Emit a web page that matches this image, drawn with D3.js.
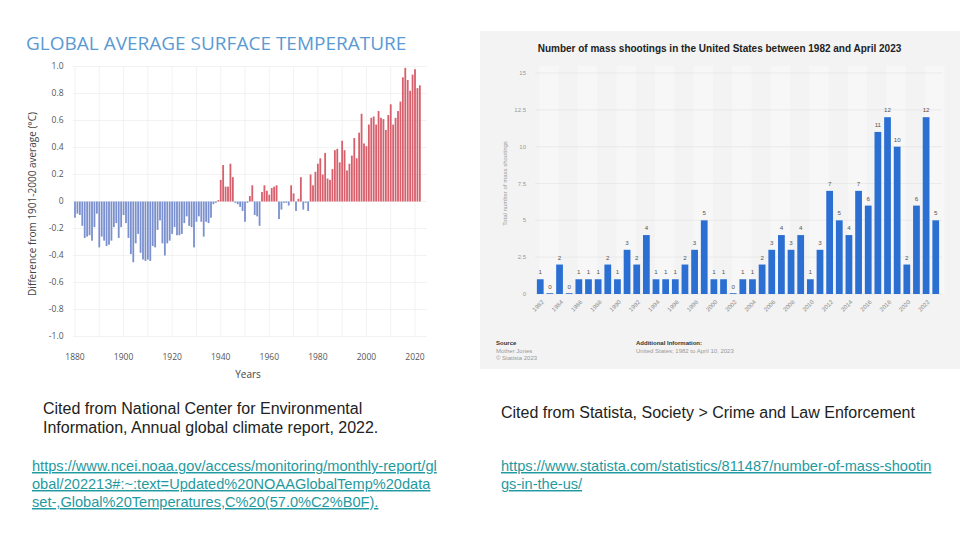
<!DOCTYPE html>
<html><head><meta charset="utf-8">
<script src="https://cdn.jsdelivr.net/npm/d3@7"></script>
<style>body{margin:0;background:#fff}svg{display:block}</style>
</head><body>
<svg id="c" width="960" height="540"></svg>
<script>
// ---------- Left chart data (NOAA global surface temperature anomaly, °C vs 1901-2000) ----------
const tempYears = d3.range(1880, 2023);
const tempAnomaly = [
 -0.12,-0.09,-0.10,-0.18,-0.27,-0.26,-0.25,-0.29,-0.19,-0.09, // 1880s
 -0.34,-0.26,-0.29,-0.33,-0.32,-0.29,-0.19,-0.16,-0.27,-0.19, // 1890s
 -0.10,-0.16,-0.27,-0.39,-0.45,-0.31,-0.24,-0.38,-0.43,-0.44, // 1900s
 -0.43,-0.44,-0.33,-0.34,-0.21,-0.14,-0.31,-0.40,-0.31,-0.29, // 1910s
 -0.24,-0.19,-0.25,-0.25,-0.24,-0.16,-0.11,-0.18,-0.19,-0.34, // 1920s
 -0.15,-0.11,-0.15,-0.26,-0.15,-0.16,-0.12,-0.02,-0.01, 0.01, // 1930s
  0.16, 0.27, 0.11, 0.11, 0.28, 0.18,-0.01,-0.02,-0.04,-0.07, // 1940s
 -0.15,-0.01, 0.04, 0.12,-0.10,-0.11,-0.18, 0.07, 0.12, 0.08, // 1950s
  0.05, 0.10, 0.11, 0.12,-0.13,-0.06,-0.01,-0.01,-0.03, 0.12, // 1960s
  0.06,-0.07, 0.02, 0.18,-0.06,-0.01,-0.07, 0.20, 0.12, 0.22, // 1970s
  0.28, 0.32, 0.20, 0.36, 0.17, 0.16, 0.24, 0.38, 0.39, 0.29, // 1980s
  0.45, 0.38, 0.23, 0.28, 0.34, 0.47, 0.32, 0.51, 0.65, 0.43, // 1990s
  0.41, 0.57, 0.62, 0.63, 0.57, 0.67, 0.62, 0.61, 0.53, 0.64, // 2000s
  0.72, 0.57, 0.62, 0.67, 0.74, 0.92, 0.99, 0.90, 0.82, 0.94, // 2010s
  0.98, 0.84, 0.86                                             // 2020s
];
const tempYTicks = [1.0, 0.8, 0.6, 0.4, 0.2, 0, -0.2, -0.4, -0.6, -0.8, -1.0];
const tempYTickLabels = ["1.0","0.8","0.6","0.4","0.2","0","-0.2","-0.4","-0.6","-0.8","-1.0"];
const tempXTicks = [1880, 1900, 1920, 1940, 1960, 1980, 2000, 2020];
const tempGridYears = [1880,1890,1900,1910,1920,1930,1940,1950,1960,1970,1980,1990,2000,2010,2020];

// ---------- Right chart data (Statista: mass shootings in the US) ----------
const shootYears = ["1982","1983","1984","1985","1986","1987","1988","1989","1990","1991",
 "1992","1993","1994","1995","1996","1997","1998","1999","2000","2001","2002","2003","2004",
 "2005","2006","2007","2008","2009","2010","2011","2012","2013","2014","2015","2016","2017",
 "2018","2019","2020","2021","2022","2023"];
const shootCounts = [1,0,2,0,1,1,1,2,1,3, 2,4,1,1,1,2,3,5,1,1, 0,1,1,2,3,4,3,4,1,3, 7,5,4,7,6,11,12,10,2,6, 12,5];
const shootYTicks = [0, 2.5, 5, 7.5, 10, 12.5, 15];
const shootYTickLabels = ["0","2.5","5","7.5","10","12.5","15"];
const shootXLabels = ["1982","1984","1986","1988","1990","1992","1994","1996","1998","2000",
 "2002","2004","2006","2008","2010","2012","2014","2016","2018","2020","2022"];

const svg = d3.select("#c");

// ================= LEFT CHART =================
const L = svg.append("g");
const yT = d3.scaleLinear().domain([-1, 1]).range([336.5, 66.5]);
const xLin = d3.scaleLinear().domain([1880, 2020]).range([75, 415]);
const stepT = (xLin(2020) - xLin(1880)) / 140;
const xT = d3.scaleBand().domain(tempYears)
  .range([xLin(1880) - stepT/2, xLin(1880) - stepT/2 + stepT*tempYears.length])
  .paddingInner(0.26).paddingOuter(0.13);

L.append("text").attr("x", 26).attr("y", 50)
  .attr("font-family", "Open Sans").attr("font-size", 19).attr("fill", "#5a9ad3")
  .text("GLOBAL AVERAGE SURFACE TEMPERATURE");

// grid
L.append("g").selectAll("line").data(tempYTicks).join("line")
  .attr("x1", 73).attr("x2", 427).attr("y1", d => yT(d)).attr("y2", d => yT(d))
  .attr("stroke", "#efefef").attr("stroke-width", 0.8);
L.append("g").selectAll("line").data(tempGridYears).join("line")
  .attr("x1", d => xLin(d)).attr("x2", d => xLin(d)).attr("y1", yT(1)).attr("y2", yT(-1))
  .attr("stroke", "#efefef").attr("stroke-width", 0.8);

// y tick labels
L.append("g").selectAll("text").data(tempYTicks).join("text")
  .attr("x", 63.5).attr("y", d => yT(d)).attr("dy", "0.35em")
  .attr("text-anchor", "end").attr("font-family", "Open Sans").attr("font-size", 8.5)
  .attr("fill", "#555").text((d, i) => tempYTickLabels[i]);
// x tick labels
L.append("g").selectAll("text").data(tempXTicks).join("text")
  .attr("x", d => xLin(d)).attr("y", 360)
  .attr("text-anchor", "middle").attr("font-family", "Open Sans").attr("font-size", 8.5)
  .attr("fill", "#555").text(d => d);
L.append("text").attr("x", 248).attr("y", 378).attr("text-anchor", "middle")
  .attr("font-family", "Open Sans").attr("font-size", 10).attr("fill", "#444").text("Years");
L.append("text").attr("transform", "translate(36,204) rotate(-90)").attr("text-anchor", "middle")
  .attr("font-family", "Open Sans").attr("font-size", 10).attr("fill", "#444")
  .text("Difference from 1901-2000 average (°C)");

// bars
L.append("g").selectAll("rect").data(tempYears).join("rect")
  .attr("x", d => xT(d)).attr("width", xT.bandwidth())
  .attr("y", (d, i) => Math.min(yT(tempAnomaly[i]), yT(0)))
  .attr("height", (d, i) => Math.max(0.6, Math.abs(yT(tempAnomaly[i]) - yT(0))))
  .attr("fill", (d, i) => tempAnomaly[i] >= 0 ? "#d85f6c" : "#7a90cf");

// ================= RIGHT CHART =================
const R = svg.append("g");
R.append("rect").attr("x", 480).attr("y", 31).attr("width", 480).attr("height", 338).attr("fill", "#f3f3f3");

const yS = d3.scaleLinear().domain([0, 15]).range([294, 73]);
const xS = d3.scaleBand().domain(shootYears).range([533.5, 942.5]).paddingInner(0.3).paddingOuter(0.35);
const stepS = xS.step();
const cS = d => xS(d) + xS.bandwidth() / 2;

// alternating stripes
const stripeStarts = shootYears.filter((d, i) => i % 4 === 0);
R.append("g").selectAll("rect").data(stripeStarts).join("rect")
  .attr("x", d => cS(d) - 1).attr("width", stepS * 2).attr("y", 66).attr("height", yS(0) - 66)
  .attr("fill", "#f7f7f7");

R.append("text").attr("x", 719.5).attr("y", 51.5).attr("text-anchor", "middle")
  .attr("font-family", "Liberation Sans").attr("font-weight", "bold").attr("font-size", 10)
  .attr("fill", "#222").text("Number of mass shootings in the United States between 1982 and April 2023");

R.append("g").selectAll("line").data(shootYTicks).join("line")
  .attr("x1", 535).attr("x2", 942).attr("y1", d => yS(d)).attr("y2", d => yS(d))
  .attr("stroke", "#e2e2e2").attr("stroke-width", 0.6);
R.append("g").selectAll("text").data(shootYTicks).join("text")
  .attr("x", 526).attr("y", d => yS(d)).attr("dy", "0.35em").attr("text-anchor", "end")
  .attr("font-family", "Liberation Sans").attr("font-size", 6).attr("fill", "#999")
  .text((d, i) => shootYTickLabels[i]);
R.append("text").attr("transform", `translate(507,${(yS(0) + yS(15)) / 2}) rotate(-90)`)
  .attr("text-anchor", "middle").attr("font-family", "Liberation Sans").attr("font-size", 6)
  .attr("fill", "#999").text("Total number of mass shootings");

R.append("g").selectAll("rect").data(shootYears).join("rect")
  .attr("x", d => xS(d)).attr("width", xS.bandwidth())
  .attr("y", (d, i) => shootCounts[i] > 0 ? yS(shootCounts[i]) : yS(0) - 0.8)
  .attr("height", (d, i) => shootCounts[i] > 0 ? yS(0) - yS(shootCounts[i]) : 0.8)
  .attr("fill", "#2b6fd3");
R.append("g").selectAll("text").data(shootYears).join("text")
  .attr("x", d => cS(d)).attr("y", (d, i) => yS(shootCounts[i]) - 5)
  .attr("text-anchor", "middle").attr("font-family", "Liberation Sans").attr("font-size", 6.2)
  .attr("fill", "#555").text((d, i) => shootCounts[i]);
R.append("g").selectAll("text").data(shootXLabels).join("text")
  .attr("transform", d => `translate(${cS(d) + 2.5},301) rotate(-45)`)
  .attr("text-anchor", "end").attr("dy", "0.35em")
  .attr("font-family", "Liberation Sans").attr("font-size", 6).attr("fill", "#888").text(d => d);

const srcG = R.append("g").attr("font-family", "Liberation Sans").attr("font-size", 6);
srcG.append("text").attr("x", 496).attr("y", 345).attr("font-weight", "bold").attr("fill", "#333").text("Source");
srcG.append("text").attr("x", 496).attr("y", 352.5).attr("fill", "#999").text("Mother Jones");
srcG.append("text").attr("x", 496).attr("y", 360).attr("fill", "#999").text("© Statista 2023");
srcG.append("text").attr("x", 636).attr("y", 345).attr("font-weight", "bold").attr("fill", "#333").text("Additional Information:");
srcG.append("text").attr("x", 636).attr("y", 352.5).attr("fill", "#999").text("United States; 1982 to April 10, 2023");

// ================= CITATIONS =================
const T = svg.append("g").attr("font-family", "Liberation Sans");
T.append("text").attr("x", 43).attr("y", 413.5).attr("font-size", 16).attr("fill", "#222")
  .text("Cited from National Center for Environmental");
T.append("text").attr("x", 43).attr("y", 432.5).attr("font-size", 16).attr("fill", "#222")
  .text("Information, Annual global climate report, 2022.");
T.append("text").attr("x", 501).attr("y", 417.5).attr("font-size", 16).attr("fill", "#222")
  .text("Cited from Statista, Society > Crime and Law Enforcement");

const linkL = ["https://www.ncei.noaa.gov/access/monitoring/monthly-report/gl",
  "obal/202213#:~:text=Updated%20NOAAGlobalTemp%20data",
  "set-,Global%20Temperatures,C%20(57.0%C2%B0F)."];
const linkR = ["https://www.statista.com/statistics/811487/number-of-mass-shootin", "gs-in-the-us/"];
T.append("g").selectAll("text").data(linkL).join("text")
  .attr("x", 32).attr("y", (d, i) => 471 + i * 18).attr("font-size", 14.6)
  .attr("fill", "#1f9aa0").attr("text-decoration", "underline").text(d => d);
T.append("g").selectAll("text").data(linkR).join("text")
  .attr("x", 501).attr("y", (d, i) => 471 + i * 18).attr("font-size", 14.6)
  .attr("fill", "#1f9aa0").attr("text-decoration", "underline").text(d => d);
</script>
</body></html>
